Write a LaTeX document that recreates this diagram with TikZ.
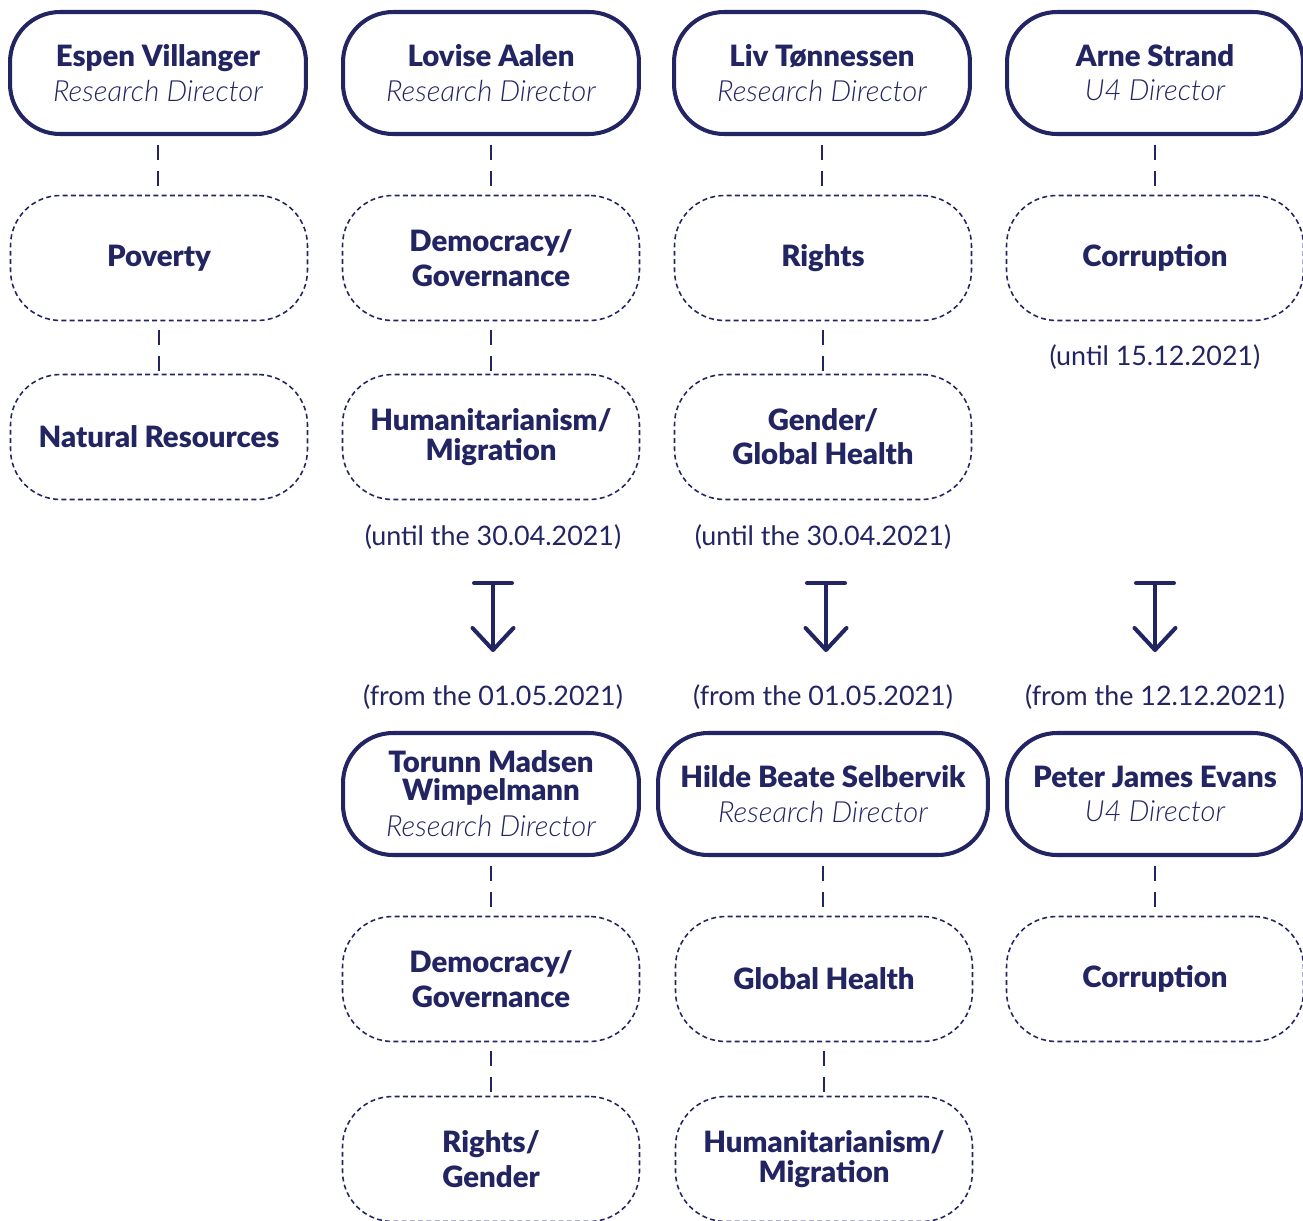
\documentclass[tikz,border=0pt]{standalone}
\usepackage{fontspec}
\setmainfont{Lato}[ItalicFont={Lato Light Italic},BoldFont={Lato Black}]
\usetikzlibrary{arrows.meta}
\definecolor{navy}{RGB}{35,37,98}
\newcommand{\role}[1]{{\fontsize{16.6}{19.5}\selectfont\mdseries\itshape #1}}

\begin{document}
\begin{tikzpicture}[x=0.02cm, y=-0.02cm, navy, text=navy,
  head/.style={draw, line width=2.3pt, rounded corners=1cm, minimum width=5.92cm, minimum height=2.44cm, inner sep=0pt, align=center, font=\fontsize{16.7}{19.5}\selectfont\bfseries},
  topic/.style={draw, line width=0.9pt, dash pattern=on 2.8pt off 1.9pt, rounded corners=1cm, minimum width=5.94cm, minimum height=2.5cm, inner sep=0pt, align=center, font=\fontsize{16.7}{19.5}\selectfont\bfseries},
  link/.style={line width=1pt, dash pattern=on 8.5pt off 6.2pt, dash phase=9.6pt},
  date/.style={font=\fontsize{15.3}{18}\selectfont},
  change/.style={line width=2.3pt, {Bar[width=0.76cm,round]}-{Straight Barb[length=0.44cm,width=0.82cm,round]}}]
\useasboundingbox (0,0) rectangle (1303,1221);

% before the change
\node[head] (espen) at (158,73) {Espen Villanger\\\role{Research Director}};
\node[head] (lovise) at (491,73) {Lovise Aalen\\\role{Research Director}};
\node[head] (liv) at (822,73) {Liv Tønnessen\\\role{Research Director}};
\node[head] (arne) at (1155,73) {Arne Strand\\\role{U4 Director}};

\node[topic] (poverty) at (159,258) {Poverty};
\node[topic] (natres) at (159,437) {Natural Resources};
\node[topic] (demo1) at (491,258) {Democracy/\\Governance};
\node[topic] (huma1) at (491,437) {Humanitarianism/\\[-2pt]Migration};
\node[topic] (rights1) at (823,258) {Rights};
\node[topic] (gender1) at (823,437) {Gender/\\Global Health};
\node[topic] (corr1) at (1155,258) {Corruption};

\draw[link] (espen.south) -- (espen.south |- poverty.north);
\draw[link] (poverty.south) -- (poverty.south |- natres.north);
\draw[link] (lovise.south) -- (lovise.south |- demo1.north);
\draw[link] (demo1.south) -- (demo1.south |- huma1.north);
\draw[link] (liv.south) -- (liv.south |- rights1.north);
\draw[link] (rights1.south) -- (rights1.south |- gender1.north);
\draw[link] (arne.south) -- (arne.south |- corr1.north);

\node[date] (until2) at (493,537) {(until the 30.04.2021)};
\node[date] (until3) at (823,537) {(until the 30.04.2021)};
\node[date] (until4) at (1155,357) {(until 15.12.2021)};

% the hand-over
\coordinate (a2) at (493,581);
\coordinate (b2) at (493,652);
\coordinate (a3) at (826,581);
\coordinate (b3) at (826,652);
\coordinate (a4) at (1155,581);
\coordinate (b4) at (1155,652);
\draw[change] (a2) -- (b2);
\draw[change] (a3) -- (b3);
\draw[change] (a4) -- (b4);

\node[date] (from2) at (493,697) {(from the 01.05.2021)};
\node[date] (from3) at (823,697) {(from the 01.05.2021)};
\node[date] (from4) at (1155,697) {(from the 12.12.2021)};

% after the change
\node[head] (torunn) at (491,794) {Torunn Madsen\\[-3.6pt]Wimpelmann\\[1pt]\role{Research Director}};
\node[head, minimum width=6.6cm] (hilde) at (823,794) {Hilde Beate Selbervik\\\role{Research Director}};
\node[head] (peter) at (1155,794) {Peter James Evans\\\role{U4 Director}};

\node[topic] (demo2) at (491,979) {Democracy/\\Governance};
\node[topic] (rights2) at (491,1159) {Rights/\\Gender};
\node[topic] (health2) at (824,979) {Global Health};
\node[topic] (huma2) at (824,1159) {Humanitarianism/\\[-2pt]Migration};
\node[topic] (corr2) at (1155,979) {Corruption};

\draw[link] (torunn.south) -- (torunn.south |- demo2.north);
\draw[link] (demo2.south) -- (demo2.south |- rights2.north);
\draw[link] (hilde.south) -- (hilde.south |- health2.north);
\draw[link] (health2.south) -- (health2.south |- huma2.north);
\draw[link] (peter.south) -- (peter.south |- corr2.north);
\end{tikzpicture}
\end{document}
